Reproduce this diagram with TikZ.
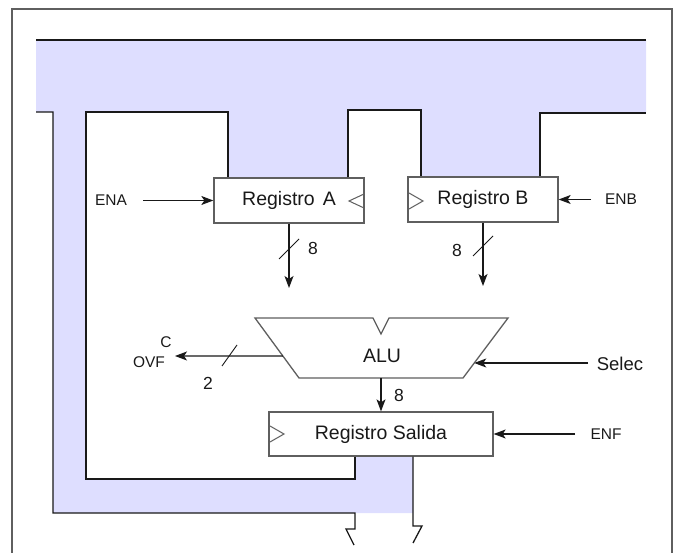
\documentclass[tikz,border=0pt]{standalone}
\usepackage{fontspec}
\setmainfont{Liberation Sans}
\usetikzlibrary{arrows.meta,calc}
\definecolor{busfill}{RGB}{222,222,255}
\definecolor{boxgray}{RGB}{95,95,95}
\definecolor{ink}{RGB}{25,25,25}
\begin{document}
\begin{tikzpicture}[x=1pt,y=-1pt,
  reg/.style={draw=boxgray, line width=1.3pt, fill=white, text=ink, inner sep=0pt,
    font=\fontsize{19.5}{21}\selectfont},
  lbl/.style={text=ink, inner sep=1pt, font=\fontsize{15.5}{16}\selectfont},
  num/.style={text=ink, inner sep=1pt, font=\fontsize{17.5}{18}\selectfont},
  arr/.style={draw=ink, line width=1.1pt, -{Stealth[length=12pt,width=9pt,inset=3pt]}},
  busline/.style={draw=ink, line width=1.3pt},
  tick/.style={draw=ink, line width=0.9pt},
  clk/.style={draw=boxgray, line width=1pt},
  alushape/.style={draw=boxgray, line width=1.3pt, fill=white, line join=miter}
]
\useasboundingbox (0,0) rectangle (675,553);
% frame
\draw[draw=boxgray, line width=1.4pt] (12,553) -- (12,9) -- (672,9) -- (672,553);
% bus shading
\fill[busfill] (36,40) -- (646,40) -- (646,113) -- (540,113) -- (540,177) -- (421,177)
  -- (421,110) -- (348,110) -- (348,178) -- (228,178) -- (228,112) -- (86,112)
  -- (86,479) -- (355,479) -- (355,456) -- (413,456) -- (413,513) -- (53,513)
  -- (53,112) -- (36,112) -- cycle;
% registers
\node[reg, minimum width=150pt, minimum height=45pt] (regA) at (289,200.5) {Registro\hspace{8pt}A};
\node[reg, minimum width=150pt, minimum height=45pt] (regB) at (483,199.5) {Registro B};
\node[reg, minimum width=224pt, minimum height=44pt] (regS) at (381,434) {Registro Salida};
% bus outlines
\draw[busline] (36,40) -- (646,40);
\draw[busline] (36,112) -- (53,112) -- (53,513) -- (355,513) -- (355,529) -- (346,529) -- (354,545);
\draw[busline] (regS.south -| 355,0) -- (355,479) -- (86,479) -- (86,112) -- (228,112) -- (regA.north -| 228,0);
\draw[busline] (regA.north -| 348,0) -- (348,110) -- (421,110) -- (regB.north -| 421,0);
\draw[busline] (regB.north -| 540,0) -- (540,113) -- (646,113);
\draw[busline] (regS.south -| 413,0) -- (413,526) -- (422,526) -- (413,543);
% clocks
\draw[clk] (364,194) -- (349,201) -- (364,208);
\draw[clk] (409,193) -- (423,201) -- (409,209);
\draw[clk] (270,426) -- (284,434) -- (270,442);
% ALU
\coordinate (aluTL) at (255,318);
\coordinate (aluTR) at (508,318);
\coordinate (aluBR) at (463,378);
\coordinate (aluBL) at (299,378);
\draw[alushape] (aluTL) -- (373,318) -- (381,334) -- (389,318) -- (aluTR) -- (aluBR) -- (aluBL) -- cycle;
\node[text=ink, inner sep=0pt, font=\fontsize{19.5}{21}\selectfont] (alu) at (382,356) {ALU};
% enables
\node[lbl] (ena) at (111,200.5) {ENA};
\coordinate (enaS) at (143,200.5);
\draw[arr] (enaS) -- (regA.west);
\node[lbl] (enb) at (621,199.5) {ENB};
\coordinate (enbS) at (591,199.5);
\draw[arr] (enbS) -- (regB.east);
\node[lbl] (enf) at (606,434) {ENF};
\coordinate (enfS) at (575,434);
\draw[arr] (enfS) -- (regS.east);
% select
\node[text=ink, inner sep=1pt, font=\fontsize{18.5}{19}\selectfont] (sel) at (620,364) {Selec};
\coordinate (selS) at (588,363);
\coordinate (aluR) at ($(aluTR)!0.75!(aluBR)$);
\draw[arr] (selS) -- (aluR);
% register outputs to ALU
\coordinate (aTip) at (289,288);
\draw[arr] (regA.south) -- (aTip);
\draw[tick] (279,259) -- (299,239);
\node[num] (na) at (313,248) {8};
\coordinate (bTip) at (483,286);
\draw[arr] (regB.south) -- (bTip);
\draw[tick] (473,256) -- (493,236);
\node[num] (nb) at (457,250) {8};
% ALU output
\coordinate (aluOut) at (381,378);
\draw[arr] (aluOut) -- (regS.north);
\node[num] (ns) at (399,395) {8};
% flags
\coordinate (aluL) at ($(aluTL)!0.633!(aluBL)$);
\coordinate (flagTip) at (175,356);
\draw[arr] (aluL) -- (flagTip);
\draw[tick] (222,366) -- (237,345);
\node[num] (n2) at (208,383) {2};
\node[lbl] (cflag) at (166,342) {C};
\node[lbl] (ovf) at (149,362) {OVF};
\end{tikzpicture}
\end{document}
